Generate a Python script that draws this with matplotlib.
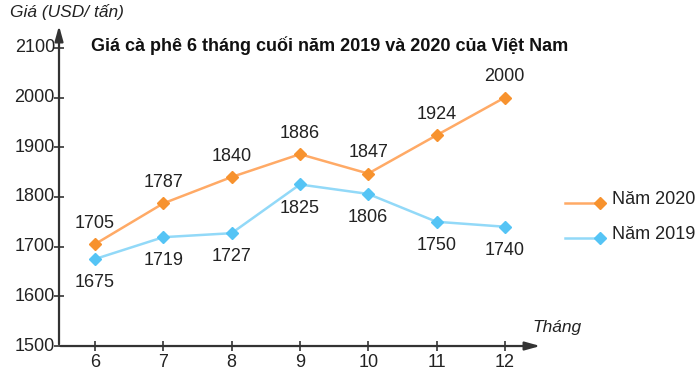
import matplotlib.pyplot as plt

plt.rcParams['font.family'] = ['Liberation Sans', 'DejaVu Sans']

months = [6, 7, 8, 9, 10, 11, 12]
gia_2020 = [1705, 1787, 1840, 1886, 1847, 1924, 2000]
gia_2019 = [1675, 1719, 1727, 1825, 1806, 1750, 1740]
y_ticks = [1500, 1600, 1700, 1800, 1900, 2000, 2100]

title = "Giá cà phê 6 tháng cuối năm 2019 và 2020 của Việt Nam"

ORANGE_LINE = "#FFAA66"
ORANGE_MARK = "#F7922E"
BLUE_LINE = "#92D9F8"
BLUE_MARK = "#55C4F5"
AXIS = "#333333"
TXT = "#222222"

fig = plt.figure(figsize=(7, 3.74), dpi=100)
ax = fig.add_axes([0, 0, 1, 1])
ax.set_xlim(4.609, 14.858)
ax.set_ylim(1443.7, 2196.2)
ax.axis("off")

x0, y0 = 5.473, 1500

# axes with arrows
ax.annotate("", xy=(x0, 2150), xytext=(x0, y0 - 2),
            arrowprops=dict(arrowstyle="-|>,head_length=0.9,head_width=0.25",
                            color=AXIS, lw=1.6))
ax.annotate("", xy=(12.56, y0), xytext=(x0 - 0.02, y0),
            arrowprops=dict(arrowstyle="-|>,head_length=0.9,head_width=0.25",
                            color=AXIS, lw=1.6))

# tick crosses
ax.plot([x0] * len(y_ticks), y_ticks, ls="none", marker="_", ms=7, mew=1.2, color=AXIS)
ax.plot(months, [y0] * len(months), ls="none", marker="|", ms=7, mew=1.2, color=AXIS)

for v in y_ticks:
    ax.text(x0 - 0.06, v, str(v), ha="right", va="center", fontsize=13, color=TXT)
for m in months:
    ax.text(m, y0 - 16, str(m), ha="center", va="top", fontsize=13, color=TXT)

ax.text(4.755, 2172, "Giá (USD/ tấn)", ha="left", va="center", fontsize=12.5,
        style="italic", color=TXT)
ax.text(12.76, 1538, "Tháng", ha="center", va="center", fontsize=12.5,
        style="italic", color=TXT)
ax.text(9.44, 2105, title, ha="center", va="center", fontsize=13,
        fontweight="bold", color="#111111")

# series
ax.plot(months, gia_2020, color=ORANGE_LINE, lw=1.8, marker="D", ms=6.5,
        mfc=ORANGE_MARK, mec=ORANGE_MARK, zorder=3)
ax.plot(months, gia_2019, color=BLUE_LINE, lw=1.8, marker="D", ms=6.5,
        mfc=BLUE_MARK, mec=BLUE_MARK, zorder=3)

for m, v in zip(months, gia_2020):
    ax.annotate(str(v), (m, v), xytext=(0, 9), textcoords="offset points",
                ha="center", va="bottom", fontsize=13, color=TXT)
for m, v in zip(months, gia_2019):
    ax.annotate(str(v), (m, v), xytext=(0, -11), textcoords="offset points",
                ha="center", va="top", fontsize=13, color=TXT)

# legend drawn by hand on the right
for yy, lc, mc, lab in [(0.457, ORANGE_LINE, ORANGE_MARK, "Năm 2020"),
                        (0.364, BLUE_LINE, BLUE_MARK, "Năm 2019")]:
    ax.plot([0.807, 0.857], [yy, yy], transform=ax.transAxes, color=lc, lw=1.8,
            marker="D", ms=6, markevery=[1], mfc=mc, mec=mc)
    ax.text(0.875, yy + 0.01, lab, transform=ax.transAxes, ha="left", va="center",
            fontsize=13, color=TXT)

fig.savefig("out.png", dpi=100)
